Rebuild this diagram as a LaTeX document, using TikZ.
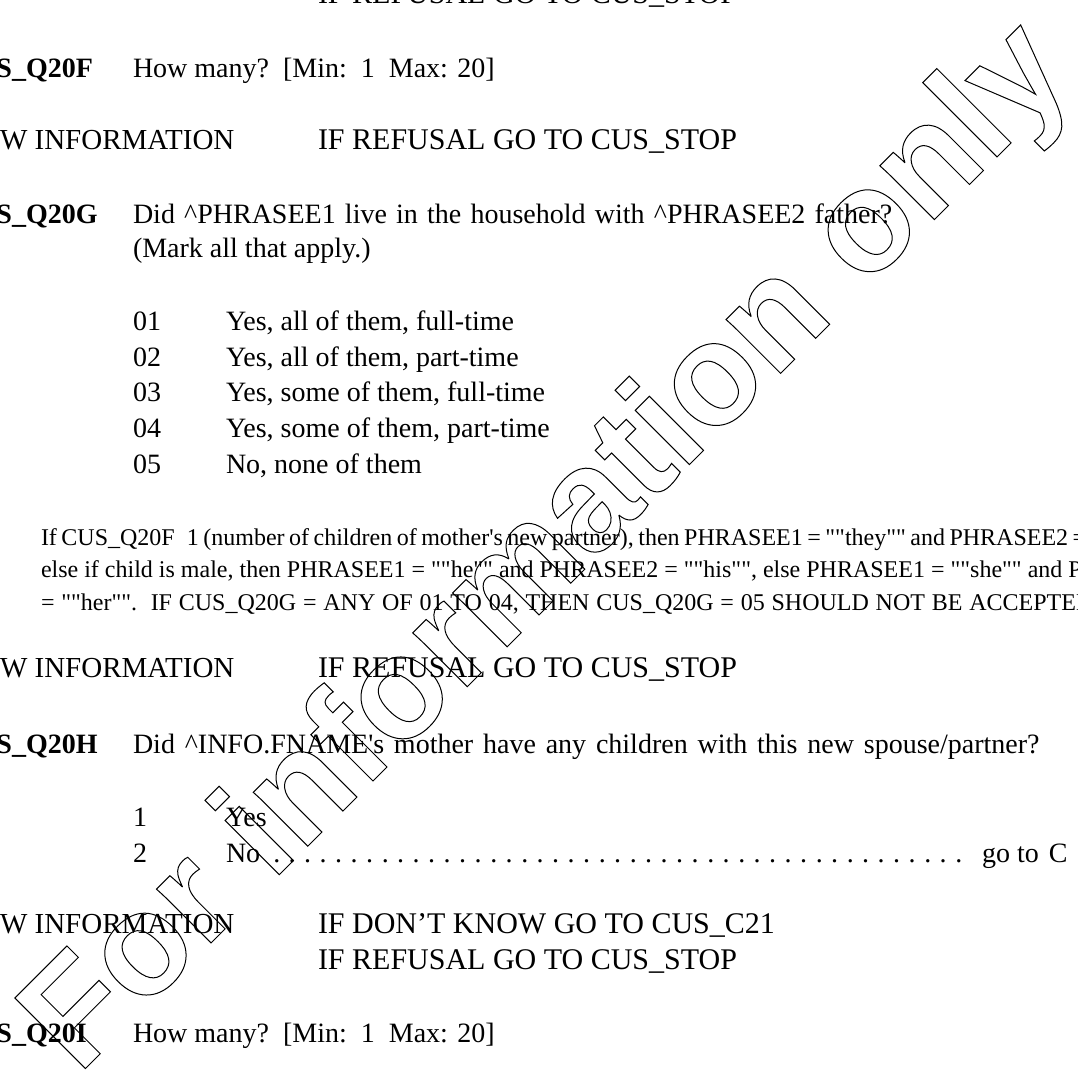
\documentclass[tikz,border=0pt]{standalone}
\usepackage{fontspec}
\setmainfont{Liberation Serif}[Ligatures=TeXOff]
\newfontfamily\wmfont{Liberation Sans}[Ligatures=TeXOff]
\tikzset{
  txt/.style={anchor=base west, inner sep=0pt, outer sep=0pt},
  qtext/.style={txt, font=\fontsize{28}{34}\selectfont},
  itext/.style={txt, font=\fontsize{30}{36}\selectfont},
  ltext/.style={txt, font=\fontsize{29}{35}\selectfont},
  ntext/.style={txt, font=\fontsize{24}{32}\selectfont},
  qlabel/.style={txt, font=\fontsize{28}{34}\selectfont\bfseries},
  wmark/.style={rotate=45, anchor=base, inner sep=0pt, font=\wmfont\bfseries\fontsize{145}{145}\selectfont}
}
\begin{document}
\begin{tikzpicture}[x=1pt, y=-1pt]
\useasboundingbox (0,0) rectangle (1078,1078);
\clip (0,0) rectangle (1078,1078);
% top
\node[itext] (r0) at (318,4) {IF REFUSAL GO TO CUS\_STOP};
% Q20F
\node[qlabel] (lf) at (-3.5,78) {S\_Q20F};
\node[qtext] (qf) at (133,78) {How many?\ \ [Min:\ \ 1\ \ Max: 20]};
\node[ltext] (i1) at (0,150) {W INFORMATION};
\node[itext] (r1) at (318,150) {IF REFUSAL GO TO CUS\_STOP};
% Q20G
\node[qlabel] (lg) at (-3.5,223) {S\_Q20G};
\node[qtext] (qg1) at (133,223) {\spaceskip=9.2pt Did \textasciicircum PHRASEE1 live in the household with \textasciicircum PHRASEE2 father?};
\node[qtext] (qg2) at (133,257) {(Mark all that apply.)};
\node[qtext] (g1n) at (133,330) {01};
\node[qtext] (g1t) at (226,330) {Yes, all of them, full-time};
\node[qtext] (g2n) at (133,366) {02};
\node[qtext] (g2t) at (226,366) {Yes, all of them, part-time};
\node[qtext] (g3n) at (133,401) {03};
\node[qtext] (g3t) at (226,401) {Yes, some of them, full-time};
\node[qtext] (g4n) at (133,437) {04};
\node[qtext] (g4t) at (226,437) {Yes, some of them, part-time};
\node[qtext] (g5n) at (133,473) {05};
\node[qtext] (g5t) at (226,473) {No, none of them};
% note
\node[ntext] (n1) at (41,545) {\spaceskip=4.5pt If CUS\_Q20F\hspace{12pt}1 (number of children of mother's new partner), then PHRASEE1 = ""they"" and PHRASEE2 =};
\node[ntext] (n2) at (41,577) {else if child is male, then PHRASEE1 = ""he"" and PHRASEE2 = ""his"", else PHRASEE1 = ""she"" and PHRASEE2};
\node[ntext] (n3) at (41,610) {\spaceskip=6.8pt = ""her"".\ \ IF CUS\_Q20G = ANY OF 01 TO 04, THEN CUS\_Q20G = 05 SHOULD NOT BE ACCEPTED};
\node[ltext] (i2) at (0,677) {W INFORMATION};
\node[itext] (r2) at (318,677) {IF REFUSAL GO TO CUS\_STOP};
% Q20H
\node[qlabel] (lh) at (-3.5,753) {S\_Q20H};
\node[qtext] (qh) at (133,753) {\spaceskip=9.8pt Did \textasciicircum INFO.FNAME's mother have any children with this new spouse/partner?};
\node[qtext] (h1n) at (133,826) {1};
\node[qtext] (h1t) at (226,826) {Yes};
\node[qtext] (h2n) at (133,862) {2};
\node[qtext] (h2t) at (226,862) {No};
\node[qtext] (h2d) at (269,862) {\hbox to 697.5pt{\cleaders\hbox to 15.5pt{\hss.\hss}\hfill}};
\node[qtext] (h2g) at (982,862) {go to\hspace{10pt}C};
\node[ltext] (i3) at (0,933) {W INFORMATION};
\node[itext] (r3a) at (318,933) {IF DON’T KNOW GO TO CUS\_C21};
\node[itext] (r3b) at (318,969) {IF REFUSAL GO TO CUS\_STOP};
% Q20I
\node[qlabel] (li) at (-3.5,1042) {S\_Q20I};
\node[qtext] (qi) at (133,1042) {How many?\ \ [Min:\ \ 1\ \ Max: 20]};
% watermark
\node[wmark] (wm) at (577,577) {\special{pdf:literal direct 1 Tr 1 w}For information only\special{pdf:literal direct 0 Tr}};
\end{tikzpicture}
\end{document}
